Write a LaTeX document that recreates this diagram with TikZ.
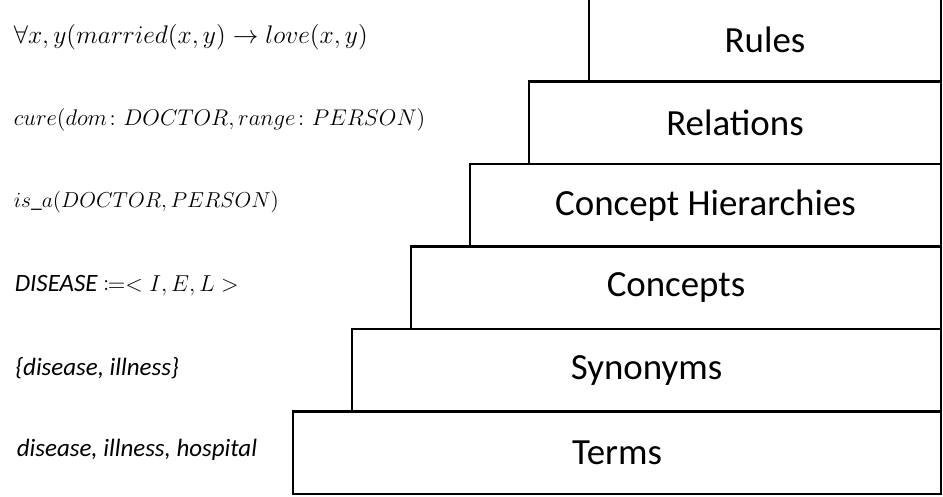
\RequirePackage{fix-cm}
\documentclass[tikz,border=0pt]{standalone}
\usepackage{fontspec}
\usepackage{mathtools}
\setmainfont{Carlito}
\setsansfont{Carlito}
\usetikzlibrary{positioning}

\begin{document}
\begin{tikzpicture}[node distance=0pt,
    layer/.style={draw,line width=1.5pt,outer sep=0pt,inner sep=0pt,minimum height=1.65cm,font=\fontsize{21}{25}\selectfont},
    note/.style={anchor=west,inner sep=0pt,font=\fontsize{14.2}{17}\selectfont\itshape},
    formula/.style={anchor=west,inner sep=0pt,font=\fontsize{#1}{18}\selectfont},
    formula/.default=14.5]

    \clip (0,0) rectangle (18.86,9.92);
    \coordinate (lx) at (0.27,0);

    \node[layer,minimum width=12.96cm,anchor=south east] (terms) at (18.82,0.04) {Terms};
    \node[layer,minimum width=11.78cm] (synonyms) [above left=0pt and 0pt of terms.north east] {Synonyms};
    \node[layer,minimum width=10.60cm] (concepts) [above left=0pt and 0pt of synonyms.north east] {Concepts};
    \node[layer,minimum width=9.42cm] (hierarchies) [above left=0pt and 0pt of concepts.north east] {Concept Hierarchies};
    \node[layer,minimum width=8.24cm] (relations) [above left=0pt and 0pt of hierarchies.north east] {Relations};
    \node[layer,minimum width=7.04cm] (rules) [above left=0pt and 0pt of relations.north east] {Rules};

    \node[note] (eterms) at ([xshift=0.06cm,yshift=0.05cm]terms.center -| lx) {disease, illness, hospital};
    \node[note] (esynonyms) at ([xshift=0.03cm,yshift=0.05cm]synonyms.center -| lx) {\{disease, illness\}};
    \node[note] (econcepts) at ([xshift=0.02cm,yshift=0.05cm]concepts.center -| lx) {DISEASE {\upshape\fontsize{13.1}{17}\selectfont$\coloneqq< I,E,L >$}};
    \node[formula=12.3] (ehierarchies) at ([yshift=0.07cm]hierarchies.center -| lx) {$is\_a(DOCTOR,PERSON)$};
    \node[formula=12.9] (erelations) at ([yshift=0.05cm]relations.center -| lx) {$cure(dom\colon DOCTOR,range\colon PERSON)$};
    \node[formula] (erules) at ([yshift=0.06cm]rules.center -| lx) {$\forall x,y(married(x,y)\rightarrow love(x,y)$};
\end{tikzpicture}
\end{document}
